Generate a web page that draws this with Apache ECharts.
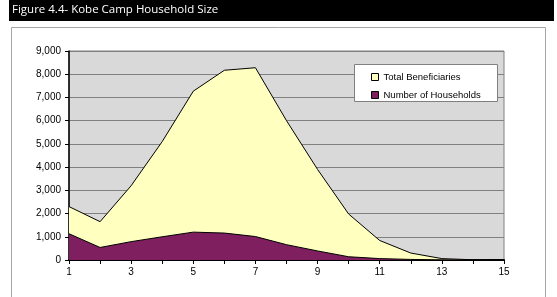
<!DOCTYPE html>
<html>
<head>
<meta charset="utf-8">
<script src="https://cdn.jsdelivr.net/npm/echarts@6/dist/echarts.min.js"></script>
<style>
  html, body { margin: 0; padding: 0; background: #fff; }
  #chart { width: 557px; height: 297px; }
</style>
</head>
<body>
<div id="chart"></div>
<script>
// household size 1..15
const sizes = ['1', '2', '3', '4', '5', '6', '7', '8', '9', '10', '11', '12', '13', '14', '15']
const totalBeneficiaries = [2300, 1650, 3200, 5100, 7270, 8170, 8280, 6000, 3900, 1980, 840, 300, 60, 10, 0]
const households = [1130, 540, 790, 1000, 1200, 1160, 1010, 660, 390, 140, 60, 25, 8, 2, 0]
const yTicks = [0, 1000, 2000, 3000, 4000, 5000, 6000, 7000, 8000, 9000]

const chart = echarts.init(document.getElementById('chart'), null, { renderer: 'canvas' })
const axisFont = { fontFamily: 'Liberation Sans, Arial, sans-serif', fontSize: 10, color: '#000' }

chart.setOption({
  animation: false,
  backgroundColor: '#ffffff',
  graphic: [
    // title band
    { type: 'rect', shape: { x: 9, y: 0, width: 545, height: 21 }, style: { fill: '#000' } },
    {
      type: 'text', left: 12, top: 4,
      style: { text: 'Figure 4.4- Kobe Camp Household Size', fill: '#fff', font: '11.5px "Open Sans", sans-serif' }
    },
    // outer frame
    { type: 'rect', shape: { x: 11.5, y: 27.5, width: 534, height: 275 }, style: { fill: 'none', stroke: '#a6a6a6', lineWidth: 1 } },
    // legend box
    { type: 'rect', z: 10, shape: { x: 354.5, y: 64.5, width: 143, height: 37 }, style: { fill: '#fff', stroke: '#808080', lineWidth: 1 } }
  ],
  grid: {
    left: 69,
    right: 53,
    top: 51,
    bottom: 37,
    show: true,
    backgroundColor: '#d9d9d9',
    borderColor: '#808080',
    borderWidth: 1
  },
  legend: {
    data: ['Total Beneficiaries', 'Number of Households'],
    orient: 'vertical',
    left: 366,
    top: 67,
    z: 11,
    itemWidth: 7,
    itemHeight: 7,
    itemGap: 8,
    icon: 'rect',
    textStyle: { fontFamily: 'Liberation Sans, Arial, sans-serif', fontSize: 9.5, color: '#000' },
    itemStyle: { borderColor: '#000', borderWidth: 1 }
  },
  xAxis: {
    type: 'category',
    data: sizes,
    boundaryGap: false,
    axisLine: { lineStyle: { color: '#000', width: 2 } },
    axisTick: { show: true, interval: 0, length: 4, lineStyle: { color: '#000' } },
    axisLabel: Object.assign({ interval: 1, margin: 7 }, axisFont),
    splitLine: { show: false }
  },
  yAxis: {
    type: 'value',
    min: yTicks[0],
    max: yTicks[yTicks.length - 1],
    interval: 1000,
    axisLine: { show: true, lineStyle: { color: '#000', width: 1.5 } },
    axisTick: { show: true, length: 4, lineStyle: { color: '#000' } },
    axisLabel: Object.assign({
      margin: 8,
      formatter: v => v.toLocaleString('en-US')
    }, axisFont),
    splitLine: { show: true, lineStyle: { color: '#808080', width: 1 } }
  },
  series: [
    {
      name: 'Total Beneficiaries',
      type: 'line',
      data: totalBeneficiaries,
      symbol: 'none',
      lineStyle: { color: '#000', width: 1 },
      itemStyle: { color: '#ffffc0' },
      areaStyle: { color: '#ffffc0', opacity: 1 },
      z: 2
    },
    {
      name: 'Number of Households',
      type: 'line',
      data: households,
      symbol: 'none',
      lineStyle: { color: '#000', width: 1 },
      itemStyle: { color: '#7f1f5f' },
      areaStyle: { color: '#7f1f5f', opacity: 1 },
      z: 3
    }
  ]
})
</script>
</body>
</html>
